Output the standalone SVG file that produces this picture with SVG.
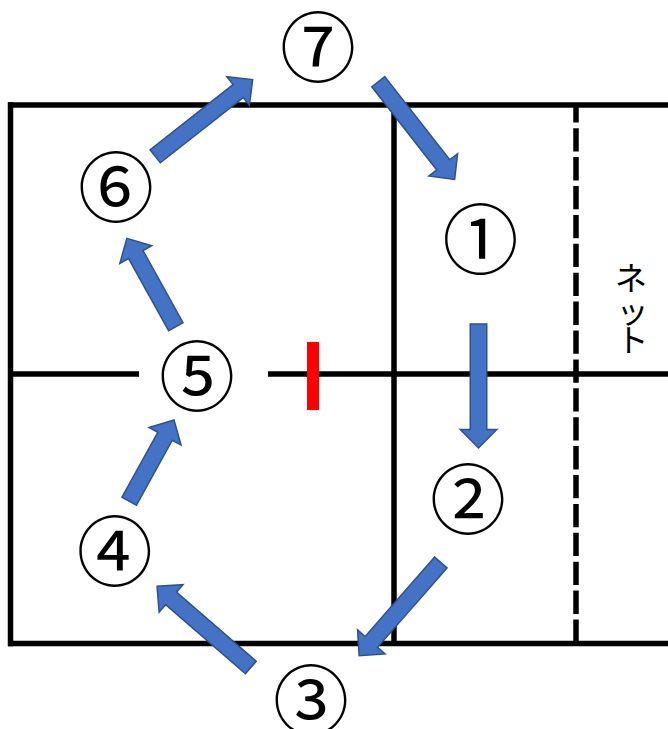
<svg xmlns="http://www.w3.org/2000/svg" width="668" height="729" viewBox="0 0 668 729">
<style>
.court{stroke:#000;stroke-width:5.5;fill:none}
.dash{stroke-dasharray:23.3 5.6;stroke-dashoffset:5.7}
.arr{fill:#4472C4;stroke:#2F528F;stroke-width:1.5;stroke-linejoin:miter}
.num{font-family:"Noto Sans CJK JP","Noto Sans",sans-serif;font-size:76px;text-anchor:middle;fill:#000}
.net{font-family:"Noto Sans CJK JP","Noto Sans",sans-serif;font-size:32px;text-anchor:middle;fill:#000}
</style>
<defs>
<path id="a124" d="M0,-8.25 H105.5 V-18.25 L124,0 L105.5,18.25 V8.25 H0 Z"/>
</defs>
<rect width="668" height="729" fill="#fff"/>
<g id="court">
<line class="court" x1="8" y1="105" x2="668" y2="105"/>
<line class="court" x1="8" y1="643.5" x2="668" y2="643.5"/>
<line class="court" x1="10.5" y1="102.3" x2="10.5" y2="646.2"/>
<line class="court" x1="394" y1="105" x2="394" y2="643.5"/>
<line class="court" x1="10" y1="374" x2="139" y2="374"/>
<line class="court" x1="268" y1="374" x2="668" y2="374"/>
<line class="court dash" x1="576" y1="105" x2="576" y2="643.5"/>
<rect x="307" y="342" width="12" height="68" fill="#FF0000"/>
<text class="net"><tspan x="631" y="290">ネ</tspan><tspan x="632.5" y="323">ッ</tspan><tspan x="632.5" y="352">ト</tspan></text>
</g>
<g id="connectors">
<use href="#a124" class="arr" transform="translate(478.5,324) rotate(90)"/>
<use href="#a124" class="arr" transform="translate(440.8,562.5) rotate(131.2)"/>
<use href="#a124" class="arr" transform="translate(250.8,667.5) rotate(-139.1)"/>
<path class="arr" d="M0,-8.25 H74.2 V-18.25 L92.7,0 L74.2,18.25 V8.25 H0 Z" transform="translate(129.2,501.2) rotate(-61.1)"/>
<path class="arr" d="M0,-8.25 H82.5 V-18.25 L101,0 L82.5,18.25 V8.25 H0 Z" transform="translate(175.8,326.7) rotate(-119)"/>
<use href="#a124" class="arr" transform="translate(155.2,156.3) rotate(-38.2)"/>
<use href="#a124" class="arr" transform="translate(378.3,81.7) rotate(52)"/>
</g>
<g id="n1"><text class="num" x="480.5" y="268">①</text></g>
<g id="n2"><text class="num" x="468" y="528">②</text></g>
<g id="n3"><text class="num" x="311" y="728.5">③</text></g>
<g id="n4"><text class="num" x="114.7" y="580">④</text></g>
<g id="n5"><text class="num" x="197" y="404.5">⑤</text></g>
<g id="n6"><text class="num" x="116" y="216">⑥</text></g>
<g id="n7"><text class="num" x="318" y="76">⑦</text></g>
</svg>
